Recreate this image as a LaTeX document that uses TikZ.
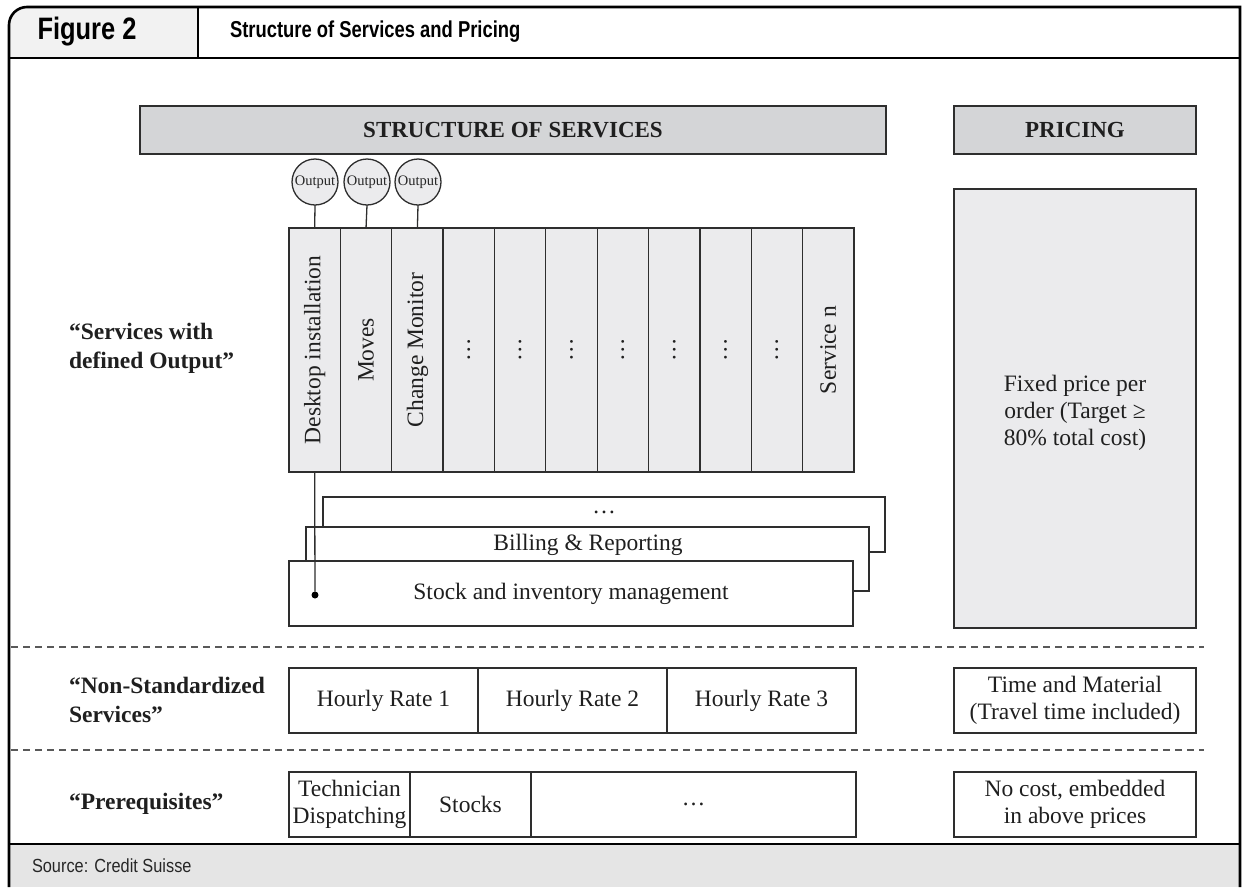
\documentclass[tikz,border=0pt]{standalone}
\usepackage{fontspec}
\setmainfont{Liberation Serif}
\newfontfamily\condbold[FakeStretch=0.8]{Liberation Sans Bold}
\newfontfamily\figbold[FakeStretch=0.82]{Liberation Sans Bold}
\newfontfamily\condlight[FakeStretch=0.86]{Liberation Sans}
\definecolor{headfill}{HTML}{F2F2F2}
\definecolor{barfill}{HTML}{D4D5D7}
\definecolor{cellfill}{HTML}{EBEBED}
\definecolor{footfill}{HTML}{E5E5E5}
\definecolor{ink}{HTML}{2E2E2E}
\begin{document}
\begin{tikzpicture}[x=1pt,y=-1pt,
  every node/.style={inner sep=0pt, outer sep=0pt},
  frameline/.style={line width=2.6pt, draw=black},
  cell/.style={draw=ink, line width=1.3pt, fill=cellfill, rectangle},
  plainbox/.style={draw=ink, line width=1.3pt, fill=white, rectangle, anchor=north west},
  barbox/.style={draw=ink, line width=1.3pt, fill=barfill, rectangle, anchor=north west,
    minimum height=48, text=black!88, font=\fontsize{23}{27}\selectfont\bfseries},
  body/.style={font=\fontsize{23.5}{27}\selectfont, align=center, text=black!88},
  rowlabel/.style={font=\fontsize{23.5}{29}\selectfont\bfseries, align=left, anchor=west, text=black!88},
  outcircle/.style={circle, draw=ink, line width=1.3pt, fill=cellfill, minimum size=46,
    font=\fontsize{14.5}{14}\selectfont, text=black!85},
  sep/.style={draw=black!65, line width=1.1pt, dash pattern=on 7pt off 5pt},
  wire/.style={draw=ink, line width=1.3pt},
]
\useasboundingbox (0,0) rectangle (1244,887);

% title strip and footer band
\fill[headfill] (9,58) [rounded corners=18] -- (9,7) [sharp corners] -- (198,7) -- (198,58) -- cycle;
\fill[footfill] (9,844) rectangle (1240,887);
\draw[frameline] (9,887) [rounded corners=18] -- (9,7) [sharp corners] -- (1240,7) -- (1240,887);
\draw[line width=2pt] (9,58) -- (1240,58);
\draw[line width=2pt] (198,7) -- (198,58);
\draw[frameline] (9,844) -- (1240,844);

\node[font=\figbold\fontsize{31}{34}\selectfont] (fig) at (87,32) {Figure 2};
\node[font=\condbold\fontsize{23}{26}\selectfont, anchor=west] (title) at (230,32) {Structure of Services and Pricing};
\node[font=\condlight\fontsize{19}{22}\selectfont, anchor=west, text=black!85] (src) at (32,866) {Source: Credit Suisse};

% column headers
\node[barbox, minimum width=746] (sos) at (140,106) {STRUCTURE OF SERVICES};
\node[barbox, minimum width=242] (prc) at (954,106) {PRICING};

% row labels
\node[rowlabel] (lab1) at (69,348) {“Services with\\defined Output”};
\node[rowlabel] (lab2) at (69,700) {“Non-Standardized\\Services”};
\node[rowlabel] (lab3) at (69,804) {“Prerequisites”};

% service columns
\foreach \i in {1,...,11} {
  \node[cell, minimum width=51.36, minimum height=244] (col\i) at ({289+51.36*(\i-0.5)},350) {};
}
\node[body, rotate=90] (col1t) at (col1) {Desktop installation};
\node[body, rotate=90] (col2t) at (col2) {Moves};
\node[body, rotate=90] (col3t) at (col3) {Change Monitor};
\foreach \i in {4,...,10} {
  \node[body, rotate=90] (col\i t) at (col\i) {…};
}
\node[body, rotate=90] (col11t) at (col11) {Service n};

% outputs on top of the first three services
\node[outcircle] (out1) at (315,182) {Output};
\node[outcircle] (out2) at (367,182) {Output};
\node[outcircle] (out3) at (418,182) {Output};
\draw[wire] (out1.south) -- (col1.north);
\draw[wire] (out2.south) -- (col2.north);
\draw[wire] (out3.south) -- (col3.north);

% stacked cross-functional services
\node[plainbox, minimum width=562, minimum height=55] (stk3) at (323,497) {};
\node[plainbox, minimum width=563, minimum height=64] (stk2) at (306,527) {};
\node[plainbox, minimum width=564, minimum height=65] (stk1) at (289,561) {};
\node[body] (stk3t) at (604,512) {…};
\node[body] (stk2t) at (588,545) {Billing \& Reporting};
\node[body] (stk1t) at (571,594) {Stock and inventory management};
\node[circle, fill=black, minimum size=7] (pin) at (315,595) {};
\draw[wire] (col1.south) -- (pin);

% pricing of defined services
\node[plainbox, fill=cellfill, minimum width=242, minimum height=439] (fix) at (954,189) {};
\node[body] (fixt) at (1075,413) {Fixed price per\\order (Target ≥\\80\% total cost)};

% separators
\coordinate (sepA1) at (11,647);
\coordinate (sepA2) at (1204,647);
\coordinate (sepB1) at (11,750);
\coordinate (sepB2) at (1204,750);
\draw[sep] (sepA1) -- (sepA2);
\draw[sep] (sepB1) -- (sepB2);

% non-standardized services
\node[plainbox, body, minimum width=189, minimum height=65] (hr1) at (289,668) {Hourly Rate 1};
\node[plainbox, body, minimum width=189, minimum height=65] (hr2) at (478,668) {Hourly Rate 2};
\node[plainbox, body, minimum width=189, minimum height=65] (hr3) at (667,668) {Hourly Rate 3};
\node[plainbox, body, minimum width=242, minimum height=65] (tm) at (954,668) {Time and Material\\(Travel time included)};

% prerequisites
\node[plainbox, body, minimum width=121, minimum height=65] (pre1) at (289,772) {Technician\\Dispatching};
\node[plainbox, body, minimum width=121, minimum height=65] (pre2) at (410,772) {Stocks};
\node[plainbox, body, minimum width=325, minimum height=65] (pre3) at (531,772) {…};
\node[plainbox, body, minimum width=242, minimum height=65] (nc) at (954,772) {No cost, embedded\\in above prices};
\end{tikzpicture}
\end{document}
